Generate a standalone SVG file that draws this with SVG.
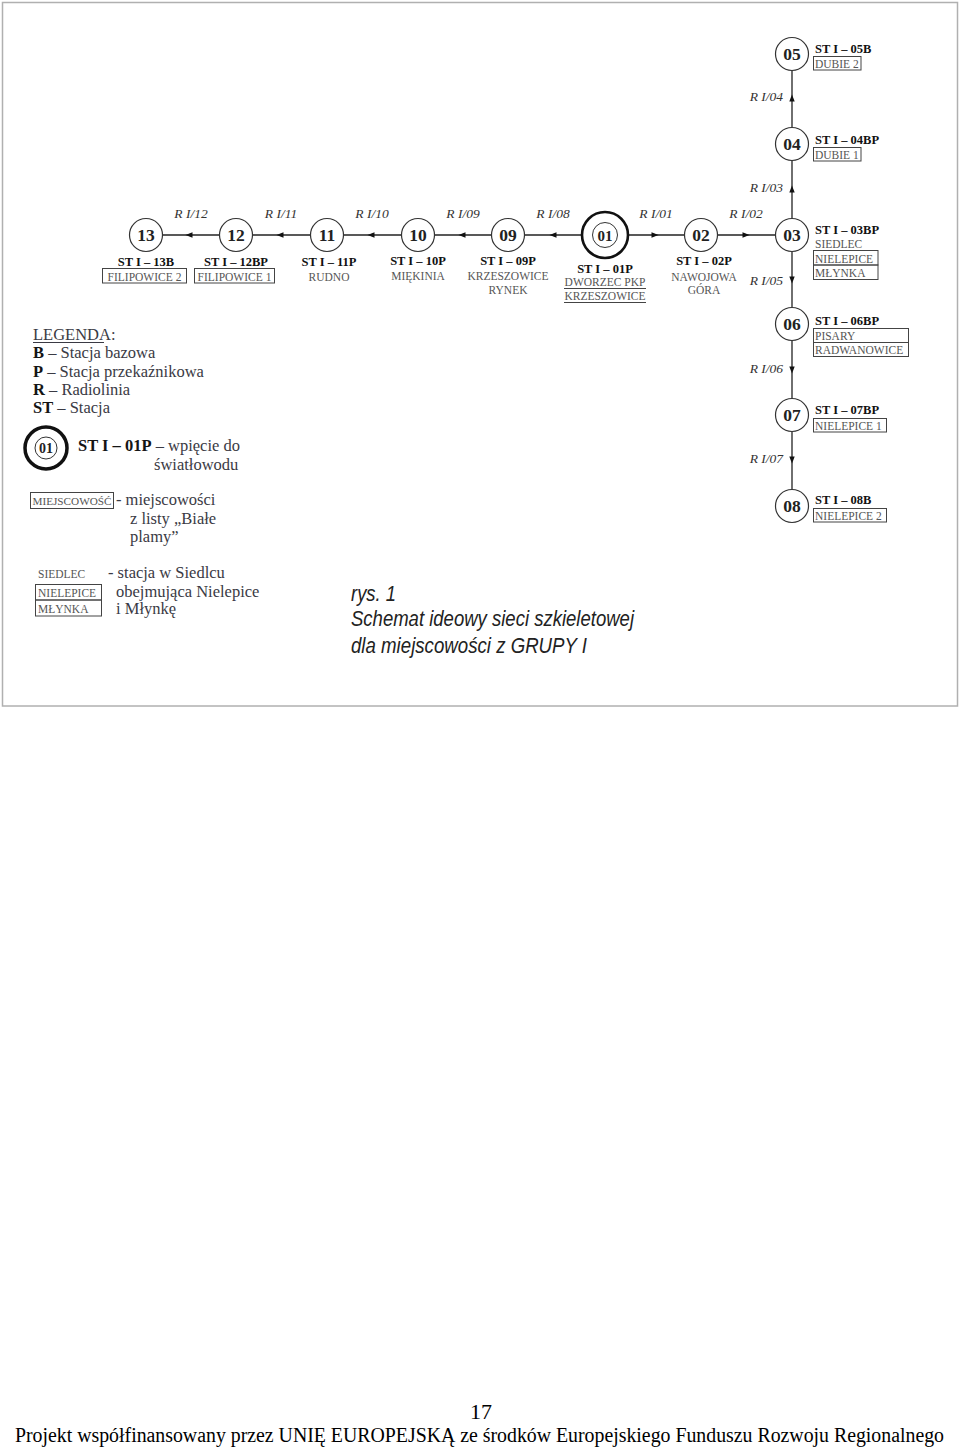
<svg xmlns="http://www.w3.org/2000/svg" width="960" height="1448" viewBox="0 0 960 1448">
<style>
.num{font-family:"Liberation Serif",serif;font-weight:bold;font-size:17.5px;fill:#222;text-anchor:middle}
.st{font-family:"Liberation Serif",serif;font-weight:bold;font-size:12.5px;fill:#111}
.pl{font-family:"Liberation Serif",serif;font-size:11.5px;fill:#555}
.ri{font-family:"Liberation Serif",serif;font-style:italic;font-size:13.5px;fill:#333}
.mid{text-anchor:middle}
.end{text-anchor:end}
.node{fill:#fff;stroke:#333;stroke-width:1.2}
.box{fill:none;stroke:#444;stroke-width:1}
.lg{font-family:"Liberation Serif",serif;font-size:16.5px;fill:#3a3a44}
.lgb{font-weight:bold;fill:#151515}
.con{fill:none;stroke:#222;stroke-width:1.3;marker-mid:url(#arr)}
.tt{font-family:"Liberation Sans",Arial,sans-serif;font-style:italic;font-size:22px;fill:#222}
.ft{font-family:"Liberation Serif","Times New Roman",serif;font-size:20px;fill:#000}
</style>
<defs>
<marker id="arr" viewBox="0 0 8 8" refX="4" refY="4" markerWidth="8" markerHeight="8" markerUnits="userSpaceOnUse" orient="auto"><path d="M0.5,1.3 L7.5,4 L0.5,6.7 z" fill="#111"/></marker>
</defs>
<rect width="960" height="1448" fill="#fff"/>
<rect x="2.5" y="2.5" width="955" height="703.5" fill="none" stroke="#b0b0b0" stroke-width="1.5"/>

<g id="connectors">
<path class="con" d="M219.5,235 L189,235 L162.5,235"/>
<path class="con" d="M310.5,235 L280,235 L252.5,235"/>
<path class="con" d="M401.5,235 L371,235 L343.5,235"/>
<path class="con" d="M491.5,235 L462,235 L434.5,235"/>
<path class="con" d="M581,235 L553,235 L524.5,235"/>
<path class="con" d="M629,235 L655,235 L684.5,235"/>
<path class="con" d="M717.5,235 L746,235 L775.5,235"/>
<path class="con" d="M792,218.5 L792,189 L792,160.5"/>
<path class="con" d="M792,127.5 L792,98 L792,70.5"/>
<path class="con" d="M792,251.5 L792,280 L792,307.5"/>
<path class="con" d="M792,340.5 L792,370 L792,398.5"/>
<path class="con" d="M792,431.5 L792,460 L792,489.5"/>
<text class="ri mid" x="191" y="218">R I/12</text>
<text class="ri mid" x="281" y="218">R I/11</text>
<text class="ri mid" x="372" y="218">R I/10</text>
<text class="ri mid" x="463" y="218">R I/09</text>
<text class="ri mid" x="553" y="218">R I/08</text>
<text class="ri mid" x="656" y="218">R I/01</text>
<text class="ri mid" x="746" y="218">R I/02</text>
<text class="ri end" x="783" y="101">R I/04</text>
<text class="ri end" x="783" y="192">R I/03</text>
<text class="ri end" x="783" y="285">R I/05</text>
<text class="ri end" x="783" y="373">R I/06</text>
<text class="ri end" x="783" y="463">R I/07</text>
</g>

<g id="n13">
<circle class="node" cx="146" cy="235" r="16.5"/>
<text class="num" x="146" y="241">13</text>
<text class="st mid" x="146" y="266">ST I – 13B</text>
<rect class="box" x="102.5" y="268.5" width="84" height="14.5"/>
<text class="pl mid" x="144.5" y="280.5">FILIPOWICE 2</text>
</g>
<g id="n12">
<circle class="node" cx="236" cy="235" r="16.5"/>
<text class="num" x="236" y="241">12</text>
<text class="st mid" x="236" y="266">ST I – 12BP</text>
<rect class="box" x="194.5" y="268.5" width="80" height="14.5"/>
<text class="pl mid" x="234.5" y="280.5">FILIPOWICE 1</text>
</g>
<g id="n11">
<circle class="node" cx="327" cy="235" r="16.5"/>
<text class="num" x="327" y="241">11</text>
<text class="st mid" x="329" y="266">ST I – 11P</text>
<text class="pl mid" x="329" y="281">RUDNO</text>
</g>
<g id="n10">
<circle class="node" cx="418" cy="235" r="16.5"/>
<text class="num" x="418" y="241">10</text>
<text class="st mid" x="418" y="265">ST I – 10P</text>
<text class="pl mid" x="418" y="280">MIĘKINIA</text>
</g>
<g id="n09">
<circle class="node" cx="508" cy="235" r="16.5"/>
<text class="num" x="508" y="241">09</text>
<text class="st mid" x="508" y="265">ST I – 09P</text>
<text class="pl mid" x="508" y="280">KRZESZOWICE</text>
<text class="pl mid" x="508" y="294">RYNEK</text>
</g>
<g id="n01">
<circle cx="605" cy="235" r="23" fill="#fff" stroke="#111" stroke-width="2.6"/>
<circle cx="605" cy="235" r="12.5" fill="none" stroke="#333" stroke-width="1"/>
<text class="num" x="605" y="240.5" style="font-size:15px">01</text>
<text class="st mid" x="605" y="273">ST I – 01P</text>
<text class="pl mid" x="605" y="286">DWORZEC PKP</text>
<line x1="564" y1="288.5" x2="646" y2="288.5" stroke="#444" stroke-width="1"/>
<text class="pl mid" x="605" y="300">KRZESZOWICE</text>
<line x1="564" y1="302.5" x2="646" y2="302.5" stroke="#444" stroke-width="1"/>
</g>
<g id="n02">
<circle class="node" cx="701" cy="235" r="16.5"/>
<text class="num" x="701" y="241">02</text>
<text class="st mid" x="704" y="265">ST I – 02P</text>
<text class="pl mid" x="704" y="281">NAWOJOWA</text>
<text class="pl mid" x="704" y="294">GÓRA</text>
</g>
<g id="n03">
<circle class="node" cx="792" cy="235" r="16.5"/>
<text class="num" x="792" y="241">03</text>
<text class="st" x="815" y="234">ST I – 03BP</text>
<text class="pl" x="815" y="248">SIEDLEC</text>
<rect class="box" x="813.5" y="250.5" width="64.5" height="14.5"/>
<rect class="box" x="813.5" y="265" width="64.5" height="14.5"/>
<text class="pl" x="815" y="262.5">NIELEPICE</text>
<text class="pl" x="815" y="277">MŁYNKA</text>
</g>
<g id="n04">
<circle class="node" cx="792" cy="144" r="16.5"/>
<text class="num" x="792" y="150">04</text>
<text class="st" x="815" y="144">ST I – 04BP</text>
<rect class="box" x="813.5" y="147.5" width="47.5" height="13.5"/>
<text class="pl" x="815" y="159">DUBIE 1</text>
</g>
<g id="n05">
<circle class="node" cx="792" cy="54" r="16.5"/>
<text class="num" x="792" y="60">05</text>
<text class="st" x="815" y="53">ST I – 05B</text>
<rect class="box" x="813.5" y="56.5" width="47.5" height="13.5"/>
<text class="pl" x="815" y="68">DUBIE 2</text>
</g>
<g id="n06">
<circle class="node" cx="792" cy="324" r="16.5"/>
<text class="num" x="792" y="330">06</text>
<text class="st" x="815" y="325">ST I – 06BP</text>
<rect class="box" x="813.5" y="328.5" width="95" height="14"/>
<rect class="box" x="813.5" y="342.5" width="95" height="14"/>
<text class="pl" x="815" y="340">PISARY</text>
<text class="pl" x="815" y="354">RADWANOWICE</text>
</g>
<g id="n07">
<circle class="node" cx="792" cy="415" r="16.5"/>
<text class="num" x="792" y="421">07</text>
<text class="st" x="815" y="414">ST I – 07BP</text>
<rect class="box" x="813.5" y="418.5" width="73" height="13.5"/>
<text class="pl" x="815" y="430">NIELEPICE 1</text>
</g>
<g id="n08">
<circle class="node" cx="792" cy="506" r="16.5"/>
<text class="num" x="792" y="512">08</text>
<text class="st" x="815" y="504">ST I – 08B</text>
<rect class="box" x="813.5" y="508.5" width="73" height="13.5"/>
<text class="pl" x="815" y="520">NIELEPICE 2</text>
</g>

<g id="legend">
<text class="lg" x="33" y="340">LEGENDA:</text>
<line x1="33" y1="342.5" x2="104" y2="342.5" stroke="#3a3a44" stroke-width="1"/>
<text class="lg" x="33" y="358"><tspan class="lgb">B</tspan> – Stacja bazowa</text>
<text class="lg" x="33" y="377"><tspan class="lgb">P</tspan> – Stacja przekaźnikowa</text>
<text class="lg" x="33" y="395"><tspan class="lgb">R</tspan> – Radiolinia</text>
<text class="lg" x="33" y="413"><tspan class="lgb">ST</tspan> – Stacja</text>
<circle cx="46" cy="448" r="21" fill="#fff" stroke="#111" stroke-width="3.5"/>
<circle cx="46" cy="448" r="11" fill="none" stroke="#333" stroke-width="1"/>
<text class="num" x="46" y="453" style="font-size:14px">01</text>
<text class="lg" x="78" y="451"><tspan class="lgb">ST I – 01P</tspan> – wpięcie do</text>
<text class="lg" x="154" y="470">światłowodu</text>
<rect class="box" x="30.5" y="492.5" width="83" height="16"/>
<text class="pl" x="32.5" y="505" style="font-size:10.5px" textLength="79" lengthAdjust="spacingAndGlyphs">MIEJSCOWOŚĆ</text>
<text class="lg" x="116" y="505">- miejscowości</text>
<text class="lg" x="130" y="524">z listy „Białe</text>
<text class="lg" x="130" y="542">plamy”</text>
<text class="pl" x="38" y="578">SIEDLEC</text>
<rect class="box" x="35.5" y="584.5" width="66" height="15.5"/>
<rect class="box" x="35.5" y="600" width="66" height="16"/>
<text class="pl" x="38" y="597">NIELEPICE</text>
<text class="pl" x="38" y="613">MŁYNKA</text>
<text class="lg" x="108" y="578">- stacja w Siedlcu</text>
<text class="lg" x="116" y="597">obejmująca Nielepice</text>
<text class="lg" x="116" y="614">i Młynkę</text>
</g>

<g id="title">
<text class="tt" x="351" y="601" textLength="45" lengthAdjust="spacingAndGlyphs">rys. 1</text>
<text class="tt" x="351" y="626" textLength="283" lengthAdjust="spacingAndGlyphs">Schemat ideowy sieci szkieletowej</text>
<text class="tt" x="351" y="653" textLength="236" lengthAdjust="spacingAndGlyphs">dla miejscowości z GRUPY I</text>
</g>

<g id="footer">
<text class="ft" x="481" y="1419" text-anchor="middle" style="font-size:22px">17</text>
<text class="ft" x="15" y="1442" textLength="929" lengthAdjust="spacingAndGlyphs">Projekt współfinansowany przez UNIĘ EUROPEJSKĄ ze środków Europejskiego Funduszu Rozwoju Regionalnego</text>
</g>
</svg>
